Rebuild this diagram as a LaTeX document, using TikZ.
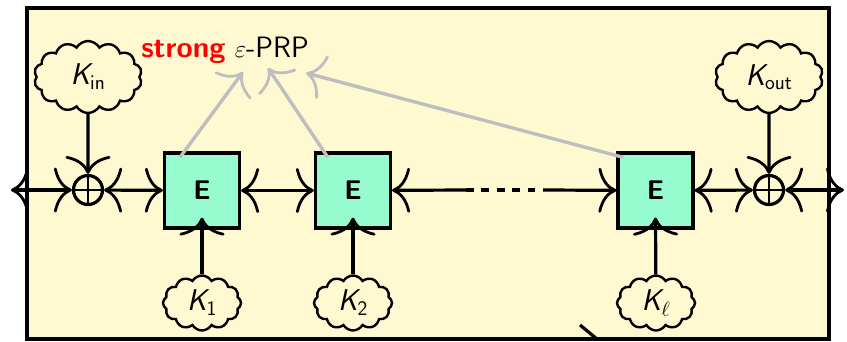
\documentclass[tikz,border=0pt]{standalone}
\usepackage{amsmath}
\usetikzlibrary{arrows.meta,shapes.symbols,calc}
\definecolor{bgyellow}{RGB}{255,249,210}
\definecolor{eaqua}{RGB}{150,252,208}
\definecolor{arrgrey}{RGB}{190,190,190}
\newcommand{\Kk}{\textsl{K}}
\begin{document}
\begin{tikzpicture}[x=1pt,y=-1pt,line width=3.2pt,
  >={Computer Modern Rightarrow[length=18pt,width=45pt,line width=2.8pt]},
  every node/.style={font=\sffamily\fontsize{29.5}{33}\selectfont},
  frame/.style={draw,fill=bgyellow},
  ebox/.style={draw,fill=eaqua,minimum size=75pt,inner sep=0pt,
    font=\sffamily\bfseries\fontsize{27}{30}\selectfont},
  keycloud/.style={cloud,draw,fill=bgyellow,cloud puffs=14,cloud puff arc=120,
    line width=2.4pt,inner sep=0pt,font=\sffamily\fontsize{30}{34}\selectfont},
  bigcloud/.style={keycloud,minimum width=108pt,minimum height=72pt,aspect=1.5},
  smallcloud/.style={keycloud,cloud puffs=12,minimum width=78pt,minimum height=55pt,aspect=1.5},
  xorn/.style={circle,draw,minimum size=29pt,inner sep=0pt,
    path picture={\draw[line width=2.6pt]
      (path picture bounding box.north) -- (path picture bounding box.south)
      (path picture bounding box.west) -- (path picture bounding box.east);}},
  main/.style={draw,<->},
  keyarrow/.style={draw,->},
  greyarrow/.style={draw=arrgrey,line width=3.4pt,->}]
\useasboundingbox (0,0) rectangle (847,341);
\draw[frame] (27,8) rectangle (829,339);
% nodes
\node[ebox] (E1) at (202,190.5) {E};
\node[ebox] (E2) at (353,190.5) {E};
\node[ebox] (E3) at (655.5,190.5) {E};
\node[xorn] (X1) at (88,190) {};
\node[xorn] (X2) at (769,190) {};
\node[bigcloud] (Kin) at (88,77) {$\Kk_{\mathsf{in}}$};
\node[bigcloud] (Kout) at (769,77) {$\Kk_{\mathsf{out}}$};
\node[smallcloud] (K1) at (202,303) {$\Kk_{\mathsf{1}}$};
\node[smallcloud] (K2) at (353,303) {$\Kk_{\mathsf{2}}$};
\node[smallcloud] (Kl) at (656,303) {$\Kk_{\ell}$};
\node[anchor=base] (prp) at (225,57) {\textcolor{red}{\bfseries strong} $\varepsilon$-PRP};
\coordinate (L) at (11,190);
\coordinate (R) at (844,190);
\coordinate (m1) at (466,190);
\coordinate (m2) at (543,190);
\coordinate (t1) at (243,72);
\coordinate (t2) at (268,68);
\coordinate (t3) at (306,73);
\coordinate (b1) at (580,325);
\coordinate (b2) at (597,339);
% main line
\draw[main] (L) -- (X1);
\draw[main] (X1) -- (E1);
\draw[main] (E1) -- (E2);
\draw[<-] (E2) -- (m1);
\draw[dash pattern=on 7.7pt off 7.7pt] (m1) -- (m2);
\draw[->] (m2) -- (E3);
\draw[main] (E3) -- (X2);
\draw[main] (X2) -- (R);
% keys
\draw[keyarrow] (Kin) -- (X1);
\draw[keyarrow] (Kout) -- (X2);
\draw[keyarrow] (K1) -- ([yshift=12pt]E1.south);
\draw[keyarrow] (K2) -- ([yshift=12pt]E2.south);
\draw[keyarrow] (Kl) -- ([yshift=12pt]E3.south);
% grey arrows
\draw[greyarrow] ($(E1.north west)+(17,6)$) -- (t1);
\draw[greyarrow] ($(E2.north west)+(14,6)$) -- (t2);
\draw[greyarrow] ($(E3.north west)+(7,6)$) -- (t3);
% stray line at bottom
\draw (b1) -- (b2);
\end{tikzpicture}
\end{document}
